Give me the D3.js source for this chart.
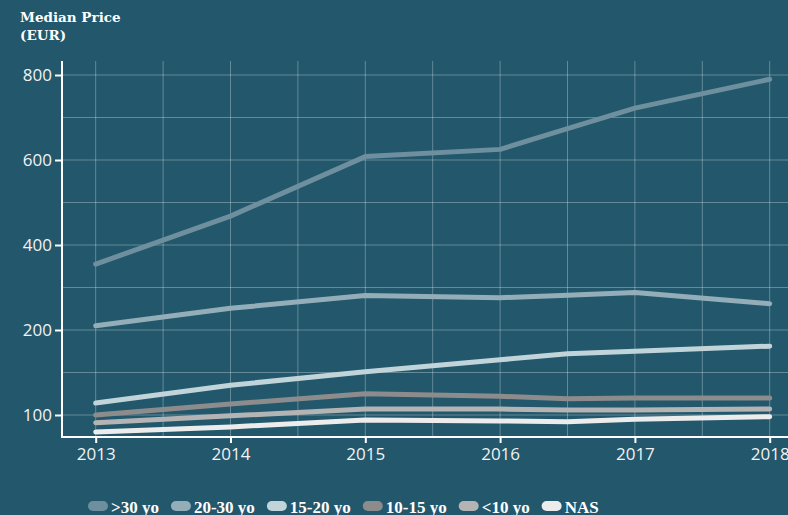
<!DOCTYPE html>
<html>
<head>
<meta charset="utf-8">
<script src="https://cdn.jsdelivr.net/npm/d3@7"></script>
<style>
  html, body { margin: 0; padding: 0; background: #22576c; }
  svg { display: block; }
</style>
</head>
<body>
<svg id="chart" width="788" height="515"></svg>
<script>
// ---- data ----
const years = [2013, 2014, 2015, 2016, 2016.5, 2017, 2018];
const seriesNames = [">30 yo", "20-30 yo", "15-20 yo", "10-15 yo", "<10 yo", "NAS"];
const over30   = [355, 468, 608, 625, 674, 722, 790];
const age20_30 = [210, 251, 281, 276, 282, 288, 262];
const age15_20 = [114, 135, 151, 165, 172, 175, 181];
const age10_15 = [100, 113, 125, 122, 119, 120, 120];
const under10  = [91, 99, 107, 107, 106, 106, 107];
const nas      = [80, 86, 94, 93, 92, 95, 98];
const seriesColors = ["#6e8f9e", "#93aeb9", "#c1d4da", "#8c8c8c", "#b4b4b4", "#ececec"];
const yTicks = [100, 200, 400, 600, 800];
const yGrid = [100, 150, 200, 300, 400, 500, 600, 700, 800];
const xTicks = [2013, 2014, 2015, 2016, 2017, 2018];
const xGrid = [2013, 2013.5, 2014, 2014.5, 2015, 2015.5, 2016, 2016.5, 2017, 2017.5, 2018];

const seriesValues = [over30, age20_30, age15_20, age10_15, under10, nas];

// ---- layout ----
const svg = d3.select("#chart");
const pLeft = 62, pTop = 61, pBottom = 437, pRight = 803.4;

const x = d3.scaleLinear().domain([2012.75, 2018.25]).range([pLeft, pRight]);
const y = d3.scaleLinear().domain([0, 200, 800]).range([500, 330, 75]);

const plot = svg.append("g");

// grid
plot.selectAll(".hgrid").data(yGrid).enter().append("line")
  .attr("x1", pLeft).attr("x2", 788)
  .attr("y1", d => y(d)).attr("y2", d => y(d))
  .attr("stroke", "rgba(255,255,255,0.3)").attr("stroke-width", 1);
plot.selectAll(".vgrid").data(xGrid).enter().append("line")
  .attr("x1", d => x(d)).attr("x2", d => x(d))
  .attr("y1", pTop).attr("y2", pBottom)
  .attr("stroke", "rgba(255,255,255,0.3)").attr("stroke-width", 1);

// lines
const line = d3.line().x((d, i) => x(years[i])).y(d => y(d));
plot.selectAll(".series").data(seriesValues).enter().append("path")
  .attr("d", d => line(d))
  .attr("fill", "none")
  .attr("stroke", (d, i) => seriesColors[i])
  .attr("stroke-width", 5)
  .attr("stroke-linecap", "round")
  .attr("stroke-linejoin", "round");

// axes
const tickFont = "'Open Sans', sans-serif";
const yAxis = d3.axisLeft(y).tickValues(yTicks).tickSize(7).tickPadding(3).tickFormat(d3.format("d"));
const gy = svg.append("g").attr("transform", `translate(${pLeft},0)`).call(yAxis);
gy.select(".domain").remove();
gy.append("line").attr("x1", 0).attr("x2", 0).attr("y1", pTop).attr("y2", pBottom + 1)
  .attr("stroke", "#fff").attr("stroke-width", 2);
gy.selectAll(".tick line").attr("stroke", "#fff").attr("stroke-width", 2);
gy.selectAll(".tick text").attr("fill", "#f2f2f2").attr("font-family", tickFont)
  .attr("font-weight", 400).attr("font-size", 17);

const xAxis = d3.axisBottom(x).tickValues(xTicks).tickSize(6).tickPadding(5).tickFormat(d3.format("d"));
const gx = svg.append("g").attr("transform", `translate(0,${pBottom})`).call(xAxis);
gx.select(".domain").remove();
gx.append("line").attr("x1", pLeft - 1).attr("x2", 788).attr("y1", 0).attr("y2", 0)
  .attr("stroke", "#fff").attr("stroke-width", 2);
gx.selectAll(".tick line").attr("stroke", "#fff").attr("stroke-width", 2);
gx.selectAll(".tick text").attr("fill", "#f2f2f2").attr("font-family", tickFont)
  .attr("font-weight", 400).attr("font-size", 17);

// title
const titleFont = "'DejaVu Serif', serif";
const title = svg.append("text").attr("x", 20).attr("y", 22)
  .attr("fill", "#fff").attr("font-family", titleFont).attr("font-weight", "bold").attr("font-size", 13.5);
title.append("tspan").attr("x", 20).attr("dy", 0).text("Median Price");
title.append("tspan").attr("x", 20).attr("dy", 18).text("(EUR)");

// legend
const legend = svg.append("g");
let lx = 88;
seriesNames.forEach((name, i) => {
  legend.append("rect").attr("x", lx).attr("y", 501).attr("width", 20).attr("height", 10)
    .attr("rx", 5).attr("ry", 5).attr("fill", seriesColors[i]);
  const t = legend.append("text").attr("x", lx + 23).attr("y", 513)
    .attr("fill", "#fff").attr("font-family", "'Liberation Serif', serif")
    .attr("font-weight", "bold").attr("font-size", 17).text(name);
  const w = t.node().getComputedTextLength();
  lx += 23 + w + 12;
});
</script>
</body>
</html>
